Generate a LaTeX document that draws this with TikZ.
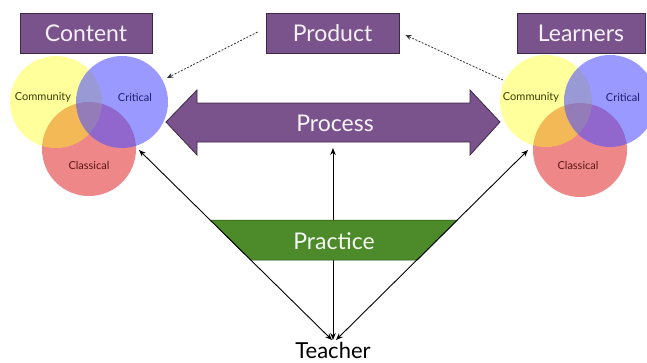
\documentclass[tikz,border=0pt]{standalone}
\usepackage{fontspec}
\setmainfont{Lato}
\usetikzlibrary{arrows.meta,calc}
\definecolor{purp}{RGB}{122,82,140}
\definecolor{purpdark}{RGB}{62,40,72}
\definecolor{grn}{RGB}{76,138,42}
\definecolor{grndark}{RGB}{40,80,20}
\definecolor{cyel}{RGB}{255,255,20}
\definecolor{cblu}{RGB}{80,80,255}
\definecolor{cred}{RGB}{225,50,50}
\definecolor{tyel}{RGB}{60,60,10}
\definecolor{tblu}{RGB}{30,30,110}
\definecolor{tred}{RGB}{95,20,20}
\tikzset{
  titlebox/.style={draw=purpdark, line width=0.8pt, fill=purp, text=white!92!purp,
    font=\fontsize{23}{26}\selectfont, minimum height=40pt, inner sep=0pt},
  ycirc/.style={circle, minimum size=92pt, inner sep=0pt, fill=cyel, fill opacity=0.42},
  bcirc/.style={circle, minimum size=92pt, inner sep=0pt, fill=cblu, fill opacity=0.58},
  rcirc/.style={circle, minimum size=94pt, inner sep=0pt, fill=cred, fill opacity=0.58},
  clabel/.style={font=\fontsize{11}{12}\selectfont, inner sep=0pt},
  dashconn/.style={draw=black!80, line width=0.8pt, dash pattern=on 2pt off 1.5pt,
    -{Stealth[length=6pt,width=5pt]}},
  solconn/.style={draw=black, line width=0.9pt,
    {Stealth[length=7pt,width=5.5pt]}-{Stealth[length=7pt,width=5.5pt]}},
  bigtext/.style={font=\fontsize{23}{26}\selectfont, text=white!94!purp, inner sep=0pt}
}
\begin{document}
\begin{tikzpicture}[x=1pt,y=-1pt]
\useasboundingbox (0,0) rectangle (647,362);
\begin{scope}
\clip (0,0) rectangle (647,362);
% Content circles
\node[rcirc] (c-red) at (89,149) {};
\node[ycirc] (c-yel) at (56,102) {};
\node[bcirc] (c-blu) at (122,102) {};
\node[clabel, text=tyel] (c-comm) at (43,97) {Community};
\node[clabel, text=tblu] (c-crit) at (135,97) {Critical};
\node[clabel, text=tred] (c-clas) at (89,165) {Classical};
% Learners circles
\node[rcirc] (l-red) at (580,150) {};
\node[ycirc] (l-yel) at (546,101) {};
\node[bcirc] (l-blu) at (610,101) {};
\node[clabel, text=tyel] (l-comm) at (531,97) {Community};
\node[clabel, text=tblu] (l-crit) at (623,97) {Critical};
\node[clabel, text=tred] (l-clas) at (578,165) {Classical};
\end{scope}
% title boxes
\node[titlebox, minimum width=132pt] (content) at (86,33) {Content};
\node[titlebox, minimum width=133pt] (product) at (332.5,33) {Product};
\node[titlebox, minimum width=128pt] (learners) at (581,33) {Learners};
% dashed connectors
\coordinate (cb-tip) at (167,78);
\coordinate (ly-start) at (503,80);
\draw[dashconn] ($(product.west)+(-8pt,1pt)$) -- (cb-tip);
\draw[dashconn] (ly-start) -- ($(product.east)+(6pt,-2pt)$);
% Process double arrow
\draw[purpdark, line width=0.8pt, fill=purp]
  (166,122) -- (197,90) -- (197,103) -- (470,103) -- (470,90) -- (500,122)
  -- (470,155) -- (470,142) -- (197,142) -- (197,155) -- cycle;
\node[bigtext] (process) at (335,123) {Process};
% Teacher
\node[font=\fontsize{22}{24}\selectfont, text=black, inner sep=0pt, anchor=base] (teacher) at (333,358.5) {Teacher};
\coordinate (t-l) at (332,340);
\coordinate (t-m) at (333,340);
\coordinate (t-r) at (336,340);
\coordinate (c-tip) at (139,150);
\coordinate (p-tip) at (333,148);
\coordinate (l-tip) at (528,150);
\draw[solconn] (t-m) -- (p-tip);
% Practice trapezoid
\draw[grndark, line width=0.5pt, fill=grn] (210,220) -- (457.6,220) -- (417.4,260) -- (250.7,260) -- cycle;
\node[bigtext, text=white!94!grn] (practice) at (334,241) {Practice};
\draw[solconn] (t-l) -- (c-tip);
\draw[solconn] (t-r) -- (l-tip);
\end{tikzpicture}
\end{document}
